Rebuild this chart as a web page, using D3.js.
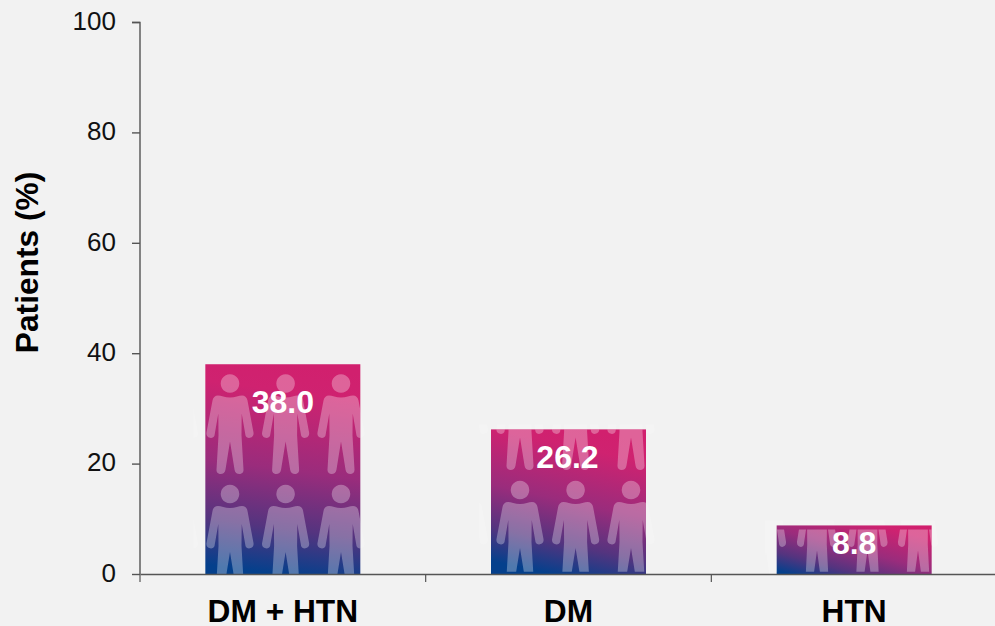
<!DOCTYPE html>
<html>
<head>
<meta charset="utf-8">
<script src="https://cdn.jsdelivr.net/npm/d3@7"></script>
<style>
html,body{margin:0;padding:0;background:#f2f2f2;overflow:hidden}
svg{display:block}
text{font-family:"Liberation Sans",Arial,sans-serif}
</style>
</head>
<body>
<svg id="chart" width="995" height="626"></svg>
<script>
const categories = ["DM + HTN", "DM", "HTN"];
const patientShare = [38.0, 26.2, 8.8];
const valueLabels = ["38.0", "26.2", "8.8"];
const yTicks = [0, 20, 40, 60, 80, 100];

const svg = d3.select("#chart");
const x = d3.scaleBand().domain(categories).range([140, 997]).paddingInner(0).paddingOuter(0);
const y = d3.scaleLinear().domain([0, 100]).range([574, 22]);
const barWidth = 155;

const defs = svg.append("defs");

// Pink-to-blue fill, leaning further on the shorter bars.
const gradientLean = [0.05, 0.12, 0.42];
const gradientStops = [[0, "#d1206e"], [0.13, "#cf2270"], [0.5, "#9a2c7c"], [0.78, "#54347f"], [1, "#04408c"]];
gradientLean.forEach((lean, i) => {
  const grad = defs.append("linearGradient").attr("id", "barFill" + i)
    .attr("x1", 0.5 + lean).attr("y1", 0).attr("x2", 0.5 - lean).attr("y2", 1);
  gradientStops.forEach(([o, c]) => grad.append("stop").attr("offset", o).attr("stop-color", c));
});

// Silhouette of one person, drawn with its head centred on the origin.
const personPath =
  "M0,-9.3a9.3,9.3 0 1 1 -0.01,0Z" +
  "M0,14 C5,14 9,12 12,12 C15,12 17,14 17.5,17 L23.5,49 C24.5,55 16.5,56 15.5,52 L11.7,30 " +
  "L11.5,52 L13.5,86 C14,92 5,92 4.5,86 L0,58 L-4.5,86 C-5,92 -14,92 -13.5,86 L-11.5,52 L-11.7,30 " +
  "L-15.5,52 C-16.5,56 -24.5,55 -23.5,49 L-17.5,17 C-17,14 -15,12 -12,12 C-9,12 -5,14 0,14Z";

// Figure layout inside each bar: columns, horizontal scale, head rows, visible band.
const figureLayout = [
  {cols: [230, 285.6, 341], sx: 1, rows: [383.5, 494], inset: 0, bottom: 574},
  {cols: [520, 575.6, 631], sx: 1, rows: [379.5, 490], inset: 0, bottom: 571.7},
  {cols: [766, 817, 867.5, 918], sx: 0.85, rows: [492.5], inset: 4, bottom: 571.7}
];

const bars = svg.append("g").selectAll("g").data(categories).join("g");

bars.each(function (cat, i) {
  const g = d3.select(this);
  const bx = x(cat) + (x.bandwidth() - barWidth) / 2;
  const top = y(patientShare[i]);
  const h = y(0) - top;
  const layout = figureLayout[i];

  defs.append("clipPath").attr("id", "halo" + i).append("rect")
    .attr("x", bx - 12).attr("y", top - 5).attr("width", barWidth + 24).attr("height", h + 5);
  defs.append("clipPath").attr("id", "inner" + i).append("rect")
    .attr("x", bx).attr("y", top + layout.inset).attr("width", barWidth)
    .attr("height", layout.bottom - top - layout.inset);

  const positions = d3.cross(layout.cols, layout.rows);
  const wide = d3.cross([layout.cols[0] - 55.6, ...layout.cols, layout.cols[layout.cols.length - 1] + 55.6], layout.rows);

  // Very faint figures spill just past the bar edges.
  g.append("g").attr("clip-path", `url(#halo${i})`)
    .selectAll("path").data(wide).join("path")
    .attr("d", personPath).attr("fill", "#fff").attr("opacity", 0.2)
    .attr("transform", d => `translate(${d[0]},${d[1]}) scale(${layout.sx},1)`);

  g.append("rect").attr("x", bx).attr("y", top).attr("width", barWidth).attr("height", h)
    .attr("fill", `url(#barFill${i})`);

  g.append("g").attr("clip-path", `url(#inner${i})`)
    .selectAll("path").data(positions).join("path")
    .attr("d", personPath).attr("fill", "#fff").attr("opacity", 0.3)
    .attr("transform", d => `translate(${d[0]},${d[1]}) scale(${layout.sx},1)`);
});

// Axes
const axisColor = "#555";
const yAxis = svg.append("g").attr("transform", "translate(140,0)")
  .call(d3.axisLeft(y).tickValues(yTicks).tickSize(8).tickPadding(16));
const xAxis = svg.append("g").attr("transform", "translate(0,574)")
  .call(d3.axisBottom(x).tickSize(0).tickPadding(28));

yAxis.selectAll(".domain, line").attr("stroke", axisColor).attr("stroke-width", 1.4);
yAxis.select(".domain").attr("d", "M-8,22.5H0V574");
yAxis.selectAll("text").attr("font-size", 26).attr("fill", "#111").attr("dy", "0.28em")
  .attr("font-family", '"Liberation Sans",Arial,sans-serif');

xAxis.select(".domain").attr("stroke", axisColor).attr("stroke-width", 1.4);
xAxis.selectAll("text").attr("font-size", 31.7).attr("font-weight", 700).attr("fill", "#000")
  .attr("font-family", '"Liberation Sans",Arial,sans-serif').attr("dy", "0.62em");

// Category separators hang below the baseline.
svg.append("g").selectAll("line").data(categories).join("line")
  .attr("x1", d => x(d)).attr("x2", d => x(d))
  .attr("y1", 574).attr("y2", 582)
  .attr("stroke", axisColor).attr("stroke-width", 1.2);

svg.append("text")
  .attr("transform", "translate(38,262.5) rotate(-90)")
  .attr("text-anchor", "middle")
  .attr("font-size", 31.7).attr("font-weight", 700).attr("fill", "#000")
  .text("Patients (%)");

// Value labels over the bars
const labelDrop = [38, 27, 17.5];
const labelNudge = [0, -1, 0];
svg.append("g").selectAll("text").data(valueLabels).join("text")
  .attr("x", (d, i) => x(categories[i]) + x.bandwidth() / 2 + labelNudge[i])
  .attr("y", (d, i) => y(patientShare[i]) + labelDrop[i])
  .attr("dy", "0.35em")
  .attr("text-anchor", "middle")
  .attr("font-size", 32).attr("font-weight", 700).attr("fill", "#fff")
  .text(d => d);
</script>
</body>
</html>
